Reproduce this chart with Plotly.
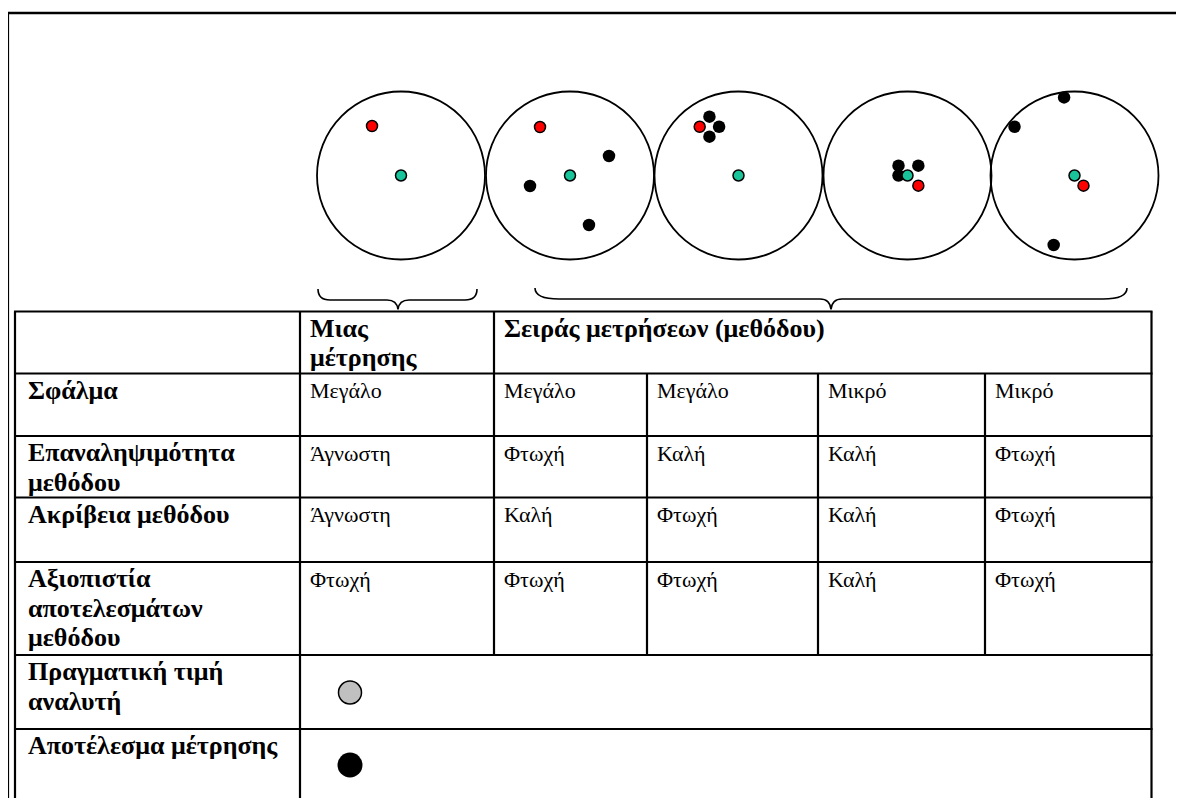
import plotly.graph_objects as go

# ---------------- data ----------------
# Five targets: one single measurement + four series of measurements
target_names = ["Μιας μέτρησης", "Σειρά 1", "Σειρά 2", "Σειρά 3", "Σειρά 4"]

# positions are in units of the target radius (x to the right, y upwards)
true_x = [0.0, 0.0, 0.0, 0.0, 0.0]          # green point (target centre)
true_y = [0.0, 0.0, 0.0, 0.0, 0.0]
mean_x = [-0.345, -0.357, -0.462, 0.129, 0.107]   # red point
mean_y = [0.589, 0.577, 0.580, -0.121, -0.121]
meas_x = [[], [0.464, -0.476, 0.226], [-0.346, -0.231, -0.346],
          [-0.107, 0.129, -0.107], [-0.124, -0.714, -0.248]]   # black points
meas_y = [[], [0.232, -0.125, -0.589], [0.700, 0.580, 0.462],
          [0.117, 0.117, 0.0], [0.930, 0.580, -0.827]]

header_single = ["Μιας", "μέτρησης"]
header_series = ["Σειράς μετρήσεων (μεθόδου)"]

row_labels = [["Σφάλμα"],
              ["Επαναληψιμότητα", "μεθόδου"],
              ["Ακρίβεια μεθόδου"],
              ["Αξιοπιστία", "αποτελεσμάτων", "μεθόδου"]]
row_values = [["Μεγάλο", "Μεγάλο", "Μεγάλο", "Μικρό", "Μικρό"],
              ["Άγνωστη", "Φτωχή", "Καλή", "Καλή", "Φτωχή"],
              ["Άγνωστη", "Καλή", "Φτωχή", "Καλή", "Φτωχή"],
              ["Φτωχή", "Φτωχή", "Φτωχή", "Καλή", "Φτωχή"]]
legend_labels = [["Πραγματική τιμή", "αναλυτή"],
                 ["Αποτέλεσμα μέτρησης"]]

# ---------------- layout geometry (pixels) ----------------
W, H = 1184, 798
OFF = 8            # page body margin of the written html
R = 84
CY = 175.5
CX = [401, 570, 738.5, 907.5, 1074.5]
PAD = 1.04

col_x = [15, 300, 494, 647, 818, 985, 1151.5]
row_y = [311.5, 373.5, 436, 497.5, 562, 655, 729, 810]

FONT = "Liberation Serif, Times New Roman, serif"
FS_B = 26
FS_R = 22
LINE_H = 29.5
DX_B, DY_B = 11, 0
DX_R, DY_R = 8, 2.5

GREEN = "#19c49b"
RED = "#ff0000"

fig = go.Figure()

layout_axes = {}
# main pixel axis (screen pixels)
layout_axes["xaxis"] = dict(range=[OFF, W + OFF], domain=[0, 1], visible=False, fixedrange=True)
layout_axes["yaxis"] = dict(range=[H + OFF, OFF], domain=[0, 1], visible=False, fixedrange=True)

shapes = []
for i, cx in enumerate(CX):
    n = i + 2
    xa, ya = f"x{n}", f"y{n}"
    layout_axes[f"xaxis{n}"] = dict(range=[-PAD, PAD],
                                    domain=[(cx - OFF - R * PAD) / W, (cx - OFF + R * PAD) / W],
                                    visible=False, fixedrange=True, anchor=ya)
    layout_axes[f"yaxis{n}"] = dict(range=[-PAD, PAD],
                                    domain=[1 - (CY - OFF + R * PAD) / H, 1 - (CY - OFF - R * PAD) / H],
                                    visible=False, fixedrange=True, anchor=xa)
    shapes.append(dict(type="circle", xref=xa, yref=ya, x0=-1, x1=1, y0=-1, y1=1,
                       line=dict(color="black", width=1.8), layer="below"))
    if meas_x[i]:
        fig.add_trace(go.Scatter(x=meas_x[i], y=meas_y[i], xaxis=xa, yaxis=ya, mode="markers",
                                 marker=dict(size=12.5, color="black", line=dict(width=0)),
                                 cliponaxis=False, hoverinfo="skip", showlegend=False))
    fig.add_trace(go.Scatter(x=[true_x[i]], y=[true_y[i]], xaxis=xa, yaxis=ya, mode="markers",
                             marker=dict(size=11, color=GREEN, line=dict(width=1.5, color="black")),
                             cliponaxis=False, hoverinfo="skip", showlegend=False))
    fig.add_trace(go.Scatter(x=[mean_x[i]], y=[mean_y[i]], xaxis=xa, yaxis=ya, mode="markers",
                             marker=dict(size=11, color=RED, line=dict(width=1.5, color="black")),
                             cliponaxis=False, hoverinfo="skip", showlegend=False))

# outer frame
LW = 2.2
shapes.append(dict(type="line", xref="x", yref="y", x0=8, x1=W + 20, y0=13, y1=13,
                   line=dict(color="black", width=2.5)))
shapes.append(dict(type="line", xref="x", yref="y", x0=8, x1=8, y0=13, y1=H + 20,
                   line=dict(color="black", width=2.2)))

# braces
def brace(x0, x1, xt, ytop=289, ymid=300, ytip=309.5, c=12):
    return (f"M {x0},{ytop} Q {x0},{ymid} {x0 + c},{ymid} L {xt - 11},{ymid} "
            f"Q {xt - 1},{ymid} {xt},{ytip} Q {xt + 1},{ymid} {xt + 11},{ymid} "
            f"L {x1 - c},{ymid} Q {x1},{ymid} {x1},{ytop}")

shapes.append(dict(type="path", xref="x", yref="y", path=brace(318, 477, 398),
                   line=dict(color="black", width=1.6)))
shapes.append(dict(type="path", xref="x", yref="y",
                   path=brace(535, 1127, 831, ytop=288, ymid=299, c=24),
                   line=dict(color="black", width=1.6)))

def hline(x0, x1, y):
    shapes.append(dict(type="line", xref="x", yref="y", x0=x0, x1=x1, y0=y, y1=y,
                       line=dict(color="black", width=LW)))

def vline(x, y0, y1):
    shapes.append(dict(type="line", xref="x", yref="y", x0=x, x1=x, y0=y0, y1=y1,
                       line=dict(color="black", width=LW)))

# table grid
for y in row_y[:-1]:
    hline(col_x[0] - 1, col_x[-1] + 1, y)
vline(col_x[0], row_y[0], row_y[-1])
vline(col_x[-1], row_y[0], row_y[-1])
vline(col_x[1], row_y[0], row_y[-1])
vline(col_x[2], row_y[0], row_y[5])
for x in col_x[3:-1]:
    vline(x, row_y[1], row_y[5])

annotations = []

def cell_text(lines, x, y, bold):
    for k, t in enumerate(lines):
        annotations.append(dict(
            text=f"<b>{t}</b>" if bold else t, xref="x", yref="y",
            x=x + (DX_B if bold else DX_R), y=y + (DY_B if bold else DY_R) + k * LINE_H,
            xanchor="left", yanchor="top", showarrow=False,
            font=dict(family=FONT, size=FS_B if bold else FS_R, color="black")))

cell_text(header_single, col_x[1] - 3, row_y[0], True)
cell_text(header_series, col_x[2] - 3, row_y[0], True)
for r, (lab, vals) in enumerate(zip(row_labels, row_values)):
    cell_text(lab, col_x[0], row_y[r + 1], True)
    for c, v in enumerate(vals):
        cell_text([v], col_x[c + 1], row_y[r + 1], False)
for r, lab in enumerate(legend_labels):
    cell_text(lab, col_x[0], row_y[r + 5], True)

# legend symbols in the last two rows
sym_x = [col_x[1] + 50, col_x[1] + 50]
sym_y = [(row_y[5] + row_y[6]) / 2 + 0.5, row_y[6] + 36]
fig.add_trace(go.Scatter(x=[sym_x[0]], y=[sym_y[0]], mode="markers",
                         marker=dict(size=23, color="#c0c0c0", line=dict(width=1.5, color="black")),
                         hoverinfo="skip", showlegend=False))
fig.add_trace(go.Scatter(x=[sym_x[1]], y=[sym_y[1]], mode="markers",
                         marker=dict(size=25, color="black", line=dict(width=0)),
                         hoverinfo="skip", showlegend=False))

fig.update_layout(width=W, height=H, margin=dict(l=0, r=0, t=0, b=0),
                  paper_bgcolor="white", plot_bgcolor="rgba(0,0,0,0)",
                  shapes=shapes, annotations=annotations, showlegend=False, **layout_axes)

fig.write_html("out.html", config={"displayModeBar": False})
